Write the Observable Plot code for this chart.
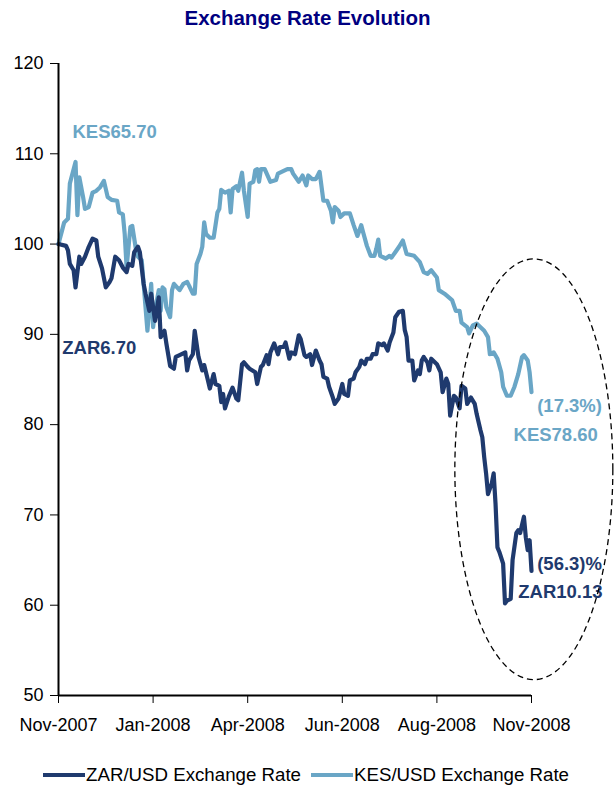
<!DOCTYPE html>
<html>
<head>
<meta charset="utf-8">
<script src="https://cdn.jsdelivr.net/npm/d3@7"></script>
<script src="https://cdn.jsdelivr.net/npm/@observablehq/plot@0.6"></script>
<style>
  html, body { margin: 0; padding: 0; background: #fff; }
  body { width: 615px; height: 788px; overflow: hidden; font-family: "Liberation Sans", Arial, sans-serif; }
  #title { height: 40px; box-sizing: border-box; padding-top: 6px; line-height: 24px; text-align: center;
           font-weight: bold; font-size: 20.5px; color: #000080; }
  #legend { position: relative; height: 48px; font-size: 18.7px; color: #000; }
  #legend .sw { position: absolute; top: 33px; height: 4px; }
  #legend .lb { position: absolute; top: 23px; line-height: 24px; white-space: nowrap; }
</style>
</head>
<body>
<div id="title">Exchange Rate Evolution</div>
<div id="chart"></div>
<div id="legend"></div>
<script>
// Trading-day index (0 = Nov-2007, 250 = Nov-2008) and rebased rates (start = 100)
const zarDay = [0,4,5,6,8,9,11,12,14,16,18,20,21,23,25,27,28,30,32,34,36,37,39,40,42,43,45,46,48,49,51,53,54,56,57,59,61,62,64,67,68,69,71,72,74,76,77,79,80,82,83,85,86,87,88,90,92,94,95,97,98,100,101,104,105,107,108,110,111,112,114,116,117,119,120,122,123,125,127,128,130,131,133,134,136,138,139,140,142,143,145,146,148,150,151,153,154,156,157,159,160,162,163,165,166,168,169,171,172,174,175,177,178,180,182,183,184,185,187,188,190,191,192,193,195,196,197,200,202,203,205,206,207,209,210,212,213,215,216,218,220,221,223,224,225,226,227,229,230,231,232,233,235,236,237,239,240,242,243,244,246,247,248,249,250];
const zarVal = [100.0,99.8,99.3,97.8,97.1,95.2,98.6,97.8,98.6,99.7,100.6,100.4,98.6,97.3,95.2,95.8,96.2,98.6,98.2,97.4,96.9,97.8,97.6,99.1,99.7,99.1,95.6,94.5,92.6,94.5,91.5,94.1,89.7,90.4,89.0,86.5,86.2,87.5,87.7,88.0,86.0,87.1,87.8,90.4,87.5,86.0,86.6,84.9,84.0,85.6,84.5,84.3,82.5,83.4,81.8,83.1,84.1,82.9,82.7,86.7,86.9,86.4,86.2,85.8,84.5,86.4,86.6,87.7,86.7,88.0,89.0,87.8,88.6,88.6,89.1,87.3,88.0,87.8,89.9,89.5,87.7,87.5,87.8,86.6,88.2,87.1,86.7,85.3,85.1,84.2,83.0,82.3,82.9,84.5,83.4,83.2,84.9,85.1,85.8,86.4,87.1,86.7,87.3,87.3,87.8,87.8,89.0,88.8,89.0,88.2,89.1,90.2,91.9,92.5,92.6,90.5,89.7,87.1,87.1,84.9,86.0,85.6,87.1,87.5,86.9,86.0,87.3,86.7,85.8,83.6,85.1,84.5,81.0,83.2,83.0,81.8,84.3,84.0,82.3,83.0,82.3,81.2,79.4,78.6,76.4,74.6,72.3,73.5,74.6,71.2,66.4,65.9,64.6,60.2,60.5,60.7,65.0,68.0,68.3,68.0,69.8,67.5,66.1,67.2,63.8];

const kesDay = [0,3,5,6,9,10,11,13,14,16,18,20,22,24,26,28,31,32,34,35,36,38,39,41,42,44,45,47,49,50,51,53,54,55,56,57,59,60,61,64,66,68,69,71,72,73,75,76,77,78,80,82,84,85,86,88,90,91,92,94,95,97,98,100,101,103,104,105,106,107,109,112,115,116,119,121,123,124,127,129,131,132,134,136,137,138,140,142,144,145,146,148,149,151,154,156,158,160,161,163,165,167,168,169,170,173,175,176,178,180,182,184,188,191,193,195,197,200,201,204,208,210,212,213,216,217,219,221,225,227,228,230,232,234,235,237,239,241,243,245,246,248,249,250];
const kesVal = [100.0,102.4,102.8,106.7,109.1,103.2,107.4,105.2,103.9,104.1,105.7,105.9,106.3,107.0,105.2,104.9,104.8,103.5,103.3,101.1,97.4,101.9,102.0,99.3,98.6,98.2,95.6,90.4,95.6,90.8,92.6,94.9,92.6,95.2,95.0,93.0,91.9,94.9,95.6,94.9,95.6,95.8,95.4,94.5,94.5,97.8,98.9,99.7,102.4,101.1,100.7,100.7,103.5,103.9,106.0,105.7,105.9,103.5,106.1,106.4,105.9,107.9,105.9,103.0,106.7,106.9,108.2,108.3,106.9,108.3,108.3,106.9,107.1,107.8,108.1,108.3,108.3,107.8,106.9,107.6,106.5,107.6,107.2,107.2,107.6,108.0,104.8,104.8,103.7,102.4,104.1,103.7,103.0,103.4,103.4,102.1,100.9,102.1,101.3,99.8,98.7,98.7,99.5,100.5,98.7,98.4,98.7,98.5,99.1,99.7,100.4,98.9,98.7,98.0,96.9,96.7,97.1,96.3,94.9,94.5,93.8,92.6,92.6,91.3,90.8,90.1,91.0,91.2,90.4,89.7,87.8,88.0,87.3,85.8,84.2,83.2,83.2,84.2,85.6,87.5,87.7,87.1,85.8,83.6];

const tickDays = [0, 50, 100, 150, 200, 250];
const tickLabels = ["Nov-2007", "Jan-2008", "Apr-2008", "Jun-2008", "Aug-2008", "Nov-2008"];
const yTicks = [50, 60, 70, 80, 90, 100, 110, 120];

const seriesNames = ["ZAR/USD Exchange Rate", "KES/USD Exchange Rate"];
const seriesColors = ["#1f3a6e", "#6aa6c6"];

// Annotation labels (day, value, text, series)
const labelDay = [7.4, 2, 253, 240.5, 253, 243];
const labelVal = [112.4, 88.5, 82.1, 78.8, 64.6, 61.4];
const labelText = ["KES65.70", "ZAR6.70", "(17.3%)", "KES78.60", "(56.3)%", "ZAR10.13"];
const labelSeries = [1, 0, 1, 1, 0, 0];

// Highlight ellipse (centre day/value, radii in days/value units)
const ellipseSpec = { day: 251.5, val: 75.0, rDay: 41.75, rVal: 23.3 };

const zar = zarDay.map((d, i) => ({ day: d, val: zarVal[i] }));
const kes = kesDay.map((d, i) => ({ day: d, val: kesVal[i] }));
const labels = labelDay.map((d, i) => ({ day: d, val: labelVal[i], text: labelText[i], color: seriesColors[labelSeries[i]] }));

const chart = Plot.plot({
  width: 615,
  height: 700,
  marginLeft: 58,
  marginRight: 84,
  marginTop: 23,
  marginBottom: 45,
  style: { fontFamily: "Liberation Sans, Arial, sans-serif", fontSize: "18px", color: "#000", background: "#fff", overflow: "visible" },
  x: { domain: [0, 250], ticks: tickDays, tickFormat: (d) => tickLabels[tickDays.indexOf(d)], tickSize: 8, tickPadding: 15, label: null },
  y: { domain: [50, 120], ticks: yTicks, tickSize: 8, tickPadding: 7, label: null },
  marks: [
    Plot.line(kes, { x: "day", y: "val", stroke: seriesColors[1], strokeWidth: 4.2, strokeLinejoin: "round" }),
    Plot.line(zar, { x: "day", y: "val", stroke: seriesColors[0], strokeWidth: 4.2, strokeLinejoin: "round" }),
    Plot.ruleX([0], { y1: 50, y2: 120, stroke: "#000", strokeWidth: 2 }),
    Plot.ruleY([50], { x1: 0, x2: 250, stroke: "#000", strokeWidth: 2 }),
    Plot.text(labels, { x: "day", y: "val", text: "text", fill: "color", textAnchor: "start", fontWeight: "bold", fontSize: 18.5 })
  ]
});

// Dashed highlight ellipse positioned through the chart's scales
const xs = chart.scale("x"), ys = chart.scale("y");
const cx = xs.apply(ellipseSpec.day), cy = ys.apply(ellipseSpec.val);
const rx = xs.apply(ellipseSpec.day + ellipseSpec.rDay) - cx;
const ry = cy - ys.apply(ellipseSpec.val + ellipseSpec.rVal);
d3.select(chart).append("ellipse")
  .attr("cx", cx).attr("cy", cy).attr("rx", rx).attr("ry", ry)
  .attr("fill", "none").attr("stroke", "#000").attr("stroke-width", 1.3).attr("stroke-dasharray", "6,4");

document.getElementById("chart").appendChild(chart);

// Legend
const legend = document.getElementById("legend");
const swLeft = [43, 311], swWidth = [42, 42], lbLeft = [86, 354];
seriesNames.forEach((name, i) => {
  const sw = document.createElement("div");
  sw.className = "sw";
  sw.style.left = swLeft[i] + "px";
  sw.style.width = swWidth[i] + "px";
  sw.style.background = seriesColors[i];
  legend.appendChild(sw);
  const lb = document.createElement("div");
  lb.className = "lb";
  lb.style.left = lbLeft[i] + "px";
  lb.textContent = name;
  legend.appendChild(lb);
});
</script>
</body>
</html>
